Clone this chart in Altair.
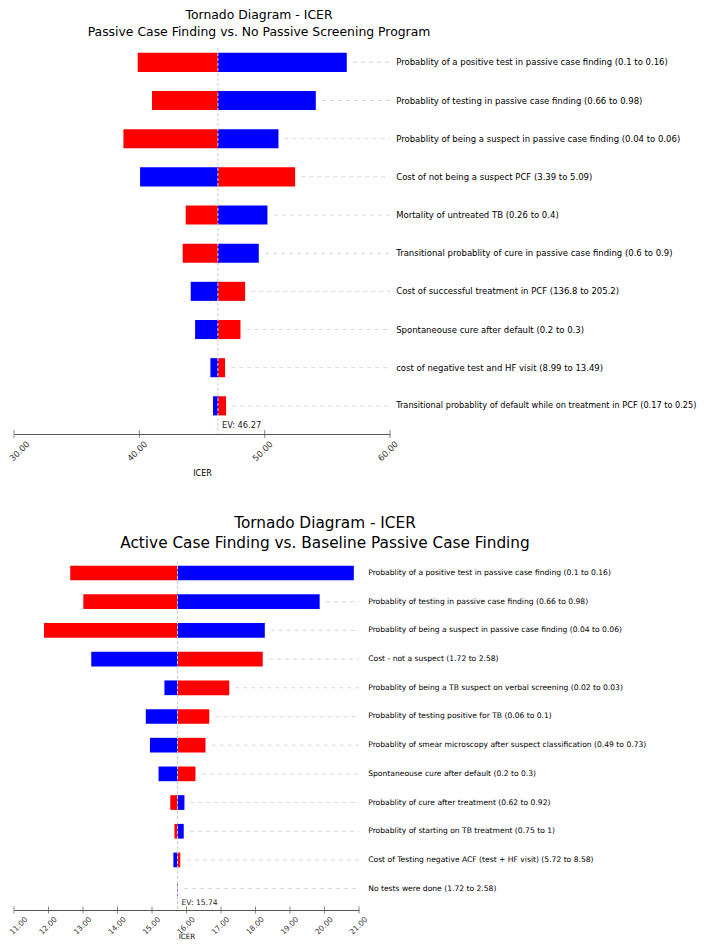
import json
import altair as alt
import pandas as pd

FONT = "DejaVu Sans"

# ---------------- data: top chart ----------------
top_title = ["Tornado Diagram - ICER", "Passive Case Finding vs. No Passive Screening Program"]
top_labels = [
    "Probablity of a positive test in passive case finding (0.1 to 0.16)",
    "Probablity of testing in passive case finding (0.66 to 0.98)",
    "Probablity of being a suspect in passive case finding (0.04 to 0.06)",
    "Cost of not being a suspect PCF (3.39 to 5.09)",
    "Mortality of untreated TB (0.26 to 0.4)",
    "Transitional probablity of cure in passive case finding (0.6 to 0.9)",
    "Cost of successful treatment in PCF (136.8 to 205.2)",
    "Spontaneouse cure after default (0.2 to 0.3)",
    "cost of negative test and HF visit (8.99 to 13.49)",
    "Transitional probablity of default while on treatment in PCF (0.17 to 0.25)",
]
top_red = [39.87, 41.01, 38.73, 52.43, 43.70, 43.46, 48.44, 48.07, 46.84, 46.92]
top_blue = [56.55, 54.08, 51.10, 40.06, 50.22, 49.53, 44.10, 44.45, 45.67, 45.88]
top_ev = 46.27
top_ticks = [30, 40, 50, 60]

# ---------------- data: bottom chart ----------------
bottom_title = ["Tornado Diagram - ICER", "Active Case Finding vs. Baseline Passive Case Finding"]
bottom_labels = [
    "Probablity of a positive test in passive case finding (0.1 to 0.16)",
    "Probablity of testing in passive case finding (0.66 to 0.98)",
    "Probablity of being a suspect in passive case finding (0.04 to 0.06)",
    "Cost - not a suspect (1.72 to 2.58)",
    "Probablity of being a TB suspect on verbal screening (0.02 to 0.03)",
    "Probablity of testing positive for TB (0.06 to 0.1)",
    "Probablity of smear microscopy after suspect classification (0.49 to 0.73)",
    "Spontaneouse cure after default (0.2 to 0.3)",
    "Probablity of cure after treatment (0.62 to 0.92)",
    "Probablity of starting on TB treatment (0.75 to 1)",
    "Cost of Testing negative ACF (test + HF visit) (5.72 to 8.58)",
    "No tests were done (1.72 to 2.58)",
]
bottom_red = [12.63, 13.01, 11.87, 18.21, 17.24, 16.66, 16.55, 16.26, 15.53, 15.65, 15.82, 15.73]
bottom_blue = [20.85, 19.86, 18.27, 13.24, 15.36, 14.82, 14.94, 15.19, 15.94, 15.92, 15.62, 15.75]
bottom_ev = 15.74
bottom_ticks = [11, 12, 13, 14, 15, 16, 17, 18, 19, 20, 21]


def tornado(labels, red, blue, ev, ticks, title, w, h, pin, pout, align,
            label_size, label_pad, title_size, title_dx, title_lh, title_off,
            gap, ev_size, ev_y, tick_size, tick_pad, tick_off, first_shift,
            axis_title_size, axis_title_y, tick_len):
    df = pd.DataFrame({"label": labels, "red": red, "blue": blue})
    df["ev"] = ev
    long = df.melt(id_vars=["label", "ev"], value_vars=["red", "blue"],
                   var_name="side", value_name="value")
    dash = df.copy()
    dash["hi"] = dash[["red", "blue"]].max(axis=1)
    dash["xmax"] = ticks[-1]

    xscale = alt.Scale(domain=[ticks[0], ticks[-1]], nice=False, zero=False)
    label_offset = {
        "condition": {"test": f"datum.value === {ticks[0]}", "value": tick_off + first_shift},
        "value": tick_off,
    }
    xaxis = alt.Axis(values=ticks, format=".2f", labelAngle=-45,
                     labelAlign="right", labelBaseline="middle",
                     labelOffset=label_offset, labelPadding=tick_pad, ticks=False,
                     domainColor="#555555", labelColor="#333333",
                     labelFont=FONT, labelFontSize=tick_size,
                     grid=False, title="ICER", titleFont=FONT,
                     titleFontSize=axis_title_size, titleFontWeight="normal",
                     titleColor="black", titleY=axis_title_y, titleBaseline="top",
                     labelFlush=False, labelOverlap=False)
    yscale = alt.Scale(paddingInner=pin, paddingOuter=pout, align=align)
    yenc = alt.Y("label:N", sort=labels, scale=yscale,
                 axis=alt.Axis(orient="right", title=None, domain=False, ticks=False,
                               labelPadding=label_pad, labelFont=FONT,
                               labelFontSize=label_size, labelColor="black",
                               labelLimit=600))

    dashes = alt.Chart(dash).transform_calculate(
        start=f"datum.hi + {gap}"
    ).mark_rule(color="#d6d6d6", strokeDash=[4, 4], strokeWidth=1).encode(
        x=alt.X("start:Q", scale=xscale, axis=xaxis),
        x2="xmax:Q",
        y=yenc,
    )

    bars = alt.Chart(long).mark_bar().encode(
        x=alt.X("ev:Q", scale=xscale, axis=xaxis),
        x2="value:Q",
        y=yenc,
        color=alt.Color("side:N", scale=alt.Scale(domain=["red", "blue"],
                                                  range=["#ff0000", "#0000ff"]),
                        legend=None),
    )

    ev_df = pd.DataFrame({"ev": [ev], "txt": [f"EV: {ev:.2f}"]})
    ev_rule = alt.Chart(ev_df).mark_rule(color="#cfc8de", strokeDash=[3, 2],
                                         strokeWidth=1).encode(
        x=alt.X("ev:Q", scale=xscale, axis=xaxis))
    ev_text = alt.Chart(ev_df).mark_text(align="left", baseline="middle", dx=4,
                                         font=FONT, fontSize=ev_size,
                                         color="#222222").encode(
        x=alt.X("ev:Q", scale=xscale, axis=xaxis),
        y=alt.value(h - ev_y),
        text="txt:N")

    tick_df = pd.DataFrame({"t": ticks})
    tick_marks = alt.Chart(tick_df).mark_tick(orient="vertical", size=tick_len,
                                              thickness=1, color="#555555").encode(
        x=alt.X("t:Q", scale=xscale, axis=xaxis),
        y=alt.value(h))

    return alt.layer(dashes, bars, ev_rule, ev_text, tick_marks).properties(
        width=w, height=h,
        title=alt.TitleParams(text=title, font=FONT, fontSize=title_size,
                              fontWeight="normal", color="black", anchor="middle",
                              frame="group", dx=title_dx, lineHeight=title_lh,
                              offset=title_off))


# the longest top label is set a touch smaller so it stays inside the page
top_label_size = {
    "condition": {"test": f"datum.value === {json.dumps(top_labels[-1])}", "value": 8.2},
    "value": 8.5,
}

top = tornado(top_labels, top_red, top_blue, top_ev, top_ticks, top_title,
              w=376, h=386, pin=0.5, pout=0.3066, align=0.205,
              label_size=top_label_size, label_pad=5.7, title_size=12.4, title_dx=57,
              title_lh=16.5, title_off=9.5, gap=0.5, ev_size=8.3, ev_y=8,
              tick_size=8.5, tick_pad=8, tick_off=6, first_shift=7.5,
              axis_title_size=8, axis_title_y=35, tick_len=8)

bottom = tornado(bottom_labels, bottom_red, bottom_blue, bottom_ev, bottom_ticks,
                 bottom_title, w=345, h=349, pin=0.488, pout=0.326, align=0.25,
                 label_size=7.6, label_pad=8.7, title_size=15.3, title_dx=138.5,
                 title_lh=20, title_off=9, gap=0.18, ev_size=7.6, ev_y=7,
                 tick_size=7.5, tick_pad=8, tick_off=7, first_shift=5,
                 axis_title_size=7.2, axis_title_y=22.5, tick_len=7)

chart = alt.vconcat(top, bottom, spacing=39).properties(
    autosize=alt.AutoSizeParams(type="none"),
    padding={"left": 6, "top": 40, "right": 687, "bottom": 893},
).configure_view(stroke=None)

chart.save("out.html", embed_options={"renderer": "svg", "actions": False})
